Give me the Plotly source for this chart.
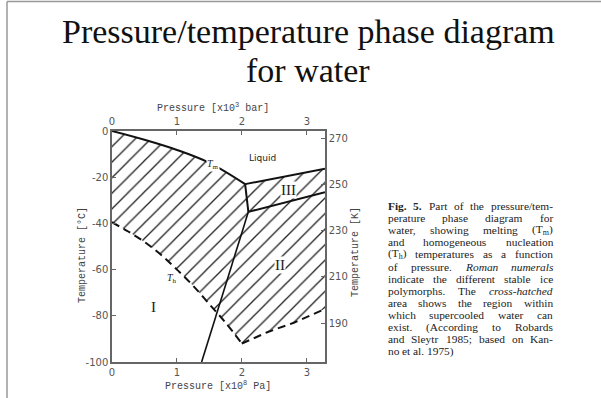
import re
import plotly.graph_objects as go

# ---------------- data (pressure in 1e8 Pa, temperature in deg C) ----------------
tm_p = [0.0, 0.5, 1.0, 1.5, 2.05]
tm_t = [0.0, -3.8, -8.2, -13.8, -23.0]

liq3_p = [2.05, 3.28]
liq3_t = [-23.0, -16.3]

i_iii_p = [2.05, 2.10]
i_iii_t = [-23.0, -35.0]

i_ii_p = [2.10, 1.38]
i_ii_t = [-35.0, -100.0]

ii_iii_p = [2.10, 3.28]
ii_iii_t = [-35.0, -26.5]

th_left_p = [0.0, 0.25, 0.5, 0.75, 1.0, 1.25, 1.5, 1.75, 2.0]
th_left_t = [-39.5, -43.5, -48.0, -53.5, -60.0, -67.0, -75.0, -83.0, -92.0]

th_right_p = [2.0, 2.4, 2.8, 3.28]
th_right_t = [-92.0, -87.0, -83.0, -77.0]

p_ticks = [0, 1, 2, 3]
c_ticks = [0, -20, -40, -60, -80, -100]
c_tick_text = ["0", "-20", "-40", "-60", "-80", "-100"]
k_ticks = [190, 210, 230, 250, 270]

region_labels = ["<i>T</i><sub>m</sub>", "Liquid", "III", "II", "I", "<i>T</i><sub>h</sub>"]
region_p = [1.55, 2.31, 2.72, 2.59, 0.64, 0.92]
region_t = [-14.5, -11.6, -25.7, -57.8, -76.4, -64.0]

title_lines = ["Pressure/temperature phase diagram", "for water"]

caption_lines = [
    "<b>Fig. 5.</b> Part of the pressure/tem-",
    "perature phase diagram for",
    "water, showing melting (T<sub>m</sub>)",
    "and homogeneous nucleation",
    "(T<sub>h</sub>) temperatures as a function",
    "of pressure. <i>Roman numerals</i>",
    "indicate the different stable ice",
    "polymorphs. The <i>cross-hatched</i>",
    "area shows the region within",
    "which supercooled water can",
    "exist. (According to Robards",
    "and Sleytr 1985; based on Kan-",
    "no et al. 1975)",
]

# ---------------- layout geometry ----------------
W, H = 601, 398
L, R, T, B = 112, 325, 131, 362
P_MAX = 3.28


def px(xpix):
    return (xpix - L) / (R - L)


def py(ypix):
    return (B - ypix) / (B - T)


# ---------------- Times-compatible glyph widths (per 1000 em) for justification ----------------
_TIMES = dict(zip("abcdefghijklmnopqrstuvwxyz",
                  [444, 500, 444, 500, 444, 333, 500, 500, 278, 278, 500, 278, 778,
                   500, 500, 500, 500, 333, 389, 278, 500, 500, 722, 500, 500, 444]))
_TIMES.update(zip("ABCDEFGHIJKLMNOPQRSTUVWXYZ",
                  [722, 667, 667, 722, 611, 556, 722, 722, 333, 389, 722, 611, 889,
                   722, 722, 556, 722, 667, 556, 611, 722, 722, 944, 722, 722, 611]))
_TIMES.update({c: 500 for c in "0123456789"})
_TIMES.update({".": 250, ",": 250, ";": 278, ":": 278, "-": 333, "(": 333, ")": 333,
               "/": 278, " ": 250})
_BOLD = dict(_TIMES, F=611, i=278, g=500)
_ITAL = dict(_TIMES, a=500, r=389, m=722, R=611, u=500, n=500, o=500, e=444, h=500, c=444)


def word_width(word, bold, ital, size):
    total = 0.0
    parts = re.split(r"(<sub>.*?</sub>)", word)
    for part in parts:
        scale = 1.0
        if part.startswith("<sub>"):
            part = part[5:-6]
            scale = 0.7
        table = _BOLD if bold else (_ITAL if ital else _TIMES)
        total += sum(table.get(ch, 500) for ch in part) * scale
    return total * size / 1000.0


fig = go.Figure()

# hatched (supercooled) region
hatch_p = tm_p + liq3_p[1:] + [th_right_p[-1]] + th_right_p[::-1][1:] + th_left_p[::-1][1:] + [tm_p[0]]
hatch_t = tm_t + liq3_t[1:] + [th_right_t[-1]] + th_right_t[::-1][1:] + th_left_t[::-1][1:] + [tm_t[0]]
fig.add_trace(go.Scatter(
    x=hatch_p, y=hatch_t, mode="none", fill="toself",
    fillcolor="rgba(255,255,255,0)",
    fillpattern=dict(shape="/", size=11, solidity=0.12, fgcolor="#222",
                     bgcolor="rgba(255,255,255,0)", fgopacity=1),
    hoverinfo="skip", showlegend=False,
))

solid = dict(color="#111", width=2)
for xs, ys, shp in [(tm_p, tm_t, "spline"), (liq3_p, liq3_t, "linear"),
                    (i_iii_p, i_iii_t, "linear"), (ii_iii_p, ii_iii_t, "linear")]:
    fig.add_trace(go.Scatter(x=xs, y=ys, mode="lines", line=dict(shape=shp, **solid),
                             showlegend=False, hoverinfo="skip"))
fig.add_trace(go.Scatter(x=i_ii_p, y=i_ii_t, mode="lines", line=dict(color="#111", width=1.6),
                         showlegend=False, hoverinfo="skip"))

dashed = dict(color="#111", width=2, dash="8px,5px")
fig.add_trace(go.Scatter(x=th_left_p, y=th_left_t, mode="lines", line=dict(shape="spline", **dashed),
                         showlegend=False, hoverinfo="skip"))
fig.add_trace(go.Scatter(x=th_right_p, y=th_right_t, mode="lines", line=dashed,
                         showlegend=False, hoverinfo="skip"))

# twin axes traces (invisible) to activate top / right axes
fig.add_trace(go.Scatter(x=[0], y=[273.15], xaxis="x2", yaxis="y2", mode="markers",
                         marker=dict(opacity=0), showlegend=False, hoverinfo="skip"))

axis_common = dict(showline=True, linecolor="#666", linewidth=1.5, ticks="inside",
                   ticklen=4, tickcolor="#666", showgrid=False, zeroline=False,
                   automargin=False,
                   tickfont=dict(family="DejaVu Sans", size=10, color="#555"))

fig.update_layout(
    width=W, height=H,
    margin=dict(l=L, r=W - R, t=T, b=H - B, autoexpand=False),
    paper_bgcolor="white", plot_bgcolor="white",
    xaxis=dict(range=[0, P_MAX], tickvals=p_ticks, **axis_common),
    xaxis2=dict(range=[0, P_MAX], tickvals=p_ticks, overlaying="x", side="top", **axis_common),
    yaxis=dict(range=[-100, 0], tickvals=c_ticks, ticktext=c_tick_text, **axis_common),
    yaxis2=dict(range=[-100 + 273.15, 273.15], tickvals=k_ticks, overlaying="y", side="right",
                **axis_common),
)

ann = []
# region labels
for txt, xp, yt in zip(region_labels, region_p, region_t):
    if txt.startswith("I"):
        font = dict(family="Liberation Serif", size=15, color="#222")
    elif txt == "Liquid":
        font = dict(family="DejaVu Sans", size=9, color="#222")
    else:
        font = dict(family="Liberation Serif", size=10, color="#222")
    ann.append(dict(x=xp, y=yt, xref="x", yref="y", text=txt, showarrow=False, font=font,
                    xanchor="center", yanchor="middle",
                    bgcolor="white" if txt not in ("Liquid", "I") else "rgba(0,0,0,0)",
                    borderpad=0))

mono = dict(family="Liberation Mono", size=10, color="#444")
ann += [
    dict(x=px(218), y=py(385), text="Pressure [x10<sup>8</sup> Pa]", font=mono),
    dict(x=px(213), y=py(107), text="Pressure [x10<sup>3</sup> bar]", font=mono),
    dict(x=px(82), y=py(255), text="Temperature [°C]", textangle=-90, font=mono),
    dict(x=px(355), y=py(252), text="Temperature [K]", textangle=-90, font=mono),
]
for a in ann[-4:]:
    a.update(xref="paper", yref="paper", showarrow=False, xanchor="center", yanchor="middle")

# title
for i, line in enumerate(title_lines):
    ann.append(dict(x=px(308), y=py(31 + 40 * i), xref="paper", yref="paper", text=line,
                    showarrow=False, xanchor="center", yanchor="middle",
                    font=dict(family="Liberation Serif", size=34, color="#111")))

# caption, justified word by word
CAP_X0, CAP_X1 = 387, 552
CAP_Y0, CAP_DY = 206, 12.1
CAP_SIZE = 11.4
cap_font = dict(family="Liberation Serif", size=CAP_SIZE, color="#222")
bold = ital = False
for i, line in enumerate(caption_lines):
    words = []
    for tok in line.split(" "):
        if "<b>" in tok:
            bold = True
        if "<i>" in tok:
            ital = True
        clean = tok.replace("<b>", "").replace("</b>", "").replace("<i>", "").replace("</i>", "")
        words.append((clean, bold, ital))
        if "</b>" in tok:
            bold = False
        if "</i>" in tok:
            ital = False
    widths = [word_width(w, b, it, CAP_SIZE) for w, b, it in words]
    last = i == len(caption_lines) - 1
    if last or len(words) == 1:
        gap = 250 * CAP_SIZE / 1000.0
    else:
        gap = (CAP_X1 - CAP_X0 - sum(widths)) / (len(words) - 1)
    xcur = CAP_X0
    for (w, b, it), wd in zip(words, widths):
        txt = w
        if b:
            txt = "<b>" + txt + "</b>"
        if it:
            txt = "<i>" + txt + "</i>"
        ann.append(dict(x=px(xcur), y=py(CAP_Y0 + CAP_DY * i), xref="paper", yref="paper",
                        text=txt, showarrow=False, xanchor="left", yanchor="middle",
                        borderpad=0, font=cap_font))
        xcur += wd + gap

fig.update_layout(annotations=ann)

# slide frame
fig.add_shape(type="line", xref="paper", yref="paper", x0=px(7), x1=px(601), y0=py(1.5), y1=py(1.5),
              line=dict(color="#999", width=1.5))
fig.add_shape(type="line", xref="paper", yref="paper", x0=px(7), x1=px(7), y0=py(1.5), y1=py(398),
              line=dict(color="#999", width=1.5))

fig.write_html("out.html", config={"displayModeBar": False},
               post_script="document.body.style.margin='0';document.body.style.padding='0';")
